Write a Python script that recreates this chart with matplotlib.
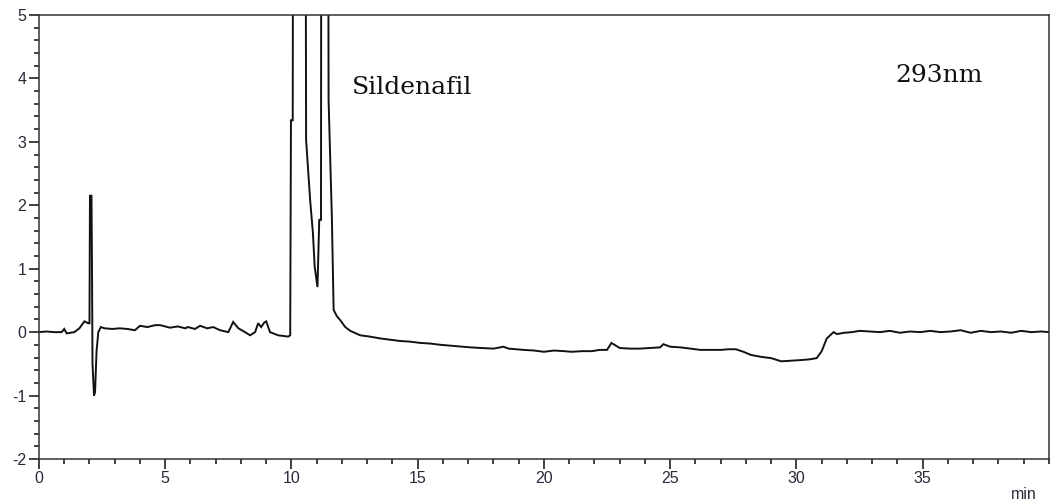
import numpy as np
import matplotlib
matplotlib.use('Agg')
import matplotlib.pyplot as plt
from matplotlib.ticker import MultipleLocator

plt.rcParams['axes.unicode_minus'] = False

# retention time (min) and detector signal
time_min = [
    0.0, 0.3, 0.6, 0.9, 1.0, 1.1, 1.4, 1.6, 1.8, 1.95, 2.0, 2.02, 2.08, 2.1, 2.12,
    2.18, 2.22, 2.28, 2.35, 2.45, 2.6, 2.9, 3.2, 3.5, 3.8, 4.0, 4.3, 4.6, 4.8,
    5.19, 5.5, 5.79, 5.9, 6.18, 6.38, 6.66, 6.9, 7.17, 7.5, 7.69, 7.9, 8.16, 8.36,
    8.56, 8.68, 8.8, 8.92, 9.0, 9.15, 9.47, 9.87, 9.95, 9.98, 10.05, 10.1, 10.5,
    10.58, 10.74, 10.85, 10.92, 11.03, 11.1, 11.17, 11.2, 11.4, 11.47, 11.6, 11.67,
    11.8, 11.93, 12.13, 12.33, 12.72, 13.1, 13.52, 13.9, 14.31, 14.7, 15.1, 15.5,
    15.9, 16.5, 17.08, 17.5, 18.0, 18.4, 18.6, 19.2, 19.6, 20.0, 20.4, 20.8, 21.1,
    21.5, 21.9, 22.2, 22.5, 22.67, 23.0, 23.4, 23.8, 24.2, 24.6, 24.73, 25.0, 25.4,
    25.8, 26.2, 26.6, 27.0, 27.3, 27.6, 27.9, 28.2, 28.6, 29.0, 29.4, 29.8, 30.2,
    30.5, 30.8, 31.0, 31.2, 31.47, 31.6, 31.9, 32.2, 32.5, 32.9, 33.3, 33.7, 34.1,
    34.5, 34.9, 35.3, 35.7, 36.1, 36.5, 36.9, 37.3, 37.7, 38.1, 38.5, 38.9, 39.3,
    39.7, 40.0,
]
signal = [
    0.0, 0.01, 0.0, 0.0, 0.05, -0.02, 0.0, 0.06, 0.17, 0.14, 0.14, 2.15, 2.15, 1.0,
    -0.5, -1.0, -0.95, -0.3, 0.0, 0.08, 0.06, 0.05, 0.06, 0.05, 0.03, 0.1, 0.08,
    0.11, 0.11, 0.07, 0.09, 0.06, 0.08, 0.05, 0.1, 0.06, 0.08, 0.03, 0.0, 0.16,
    0.06, 0.0, -0.05, 0.0, 0.14, 0.08, 0.15, 0.17, 0.0, -0.05, -0.07, -0.05, 3.34,
    3.34, 20.0, 20.0, 3.03, 2.08, 1.56, 1.03, 0.71, 1.77, 1.77, 20.0, 20.0, 3.66,
    1.81, 0.35, 0.25, 0.19, 0.08, 0.02, -0.05, -0.07, -0.1, -0.12, -0.14, -0.15,
    -0.17, -0.18, -0.2, -0.22, -0.24, -0.25, -0.26, -0.23, -0.26, -0.28, -0.29,
    -0.31, -0.29, -0.3, -0.31, -0.3, -0.3, -0.28, -0.28, -0.17, -0.25, -0.26,
    -0.26, -0.25, -0.24, -0.19, -0.23, -0.24, -0.26, -0.28, -0.28, -0.28, -0.27,
    -0.27, -0.31, -0.36, -0.39, -0.41, -0.46, -0.45, -0.44, -0.43, -0.41, -0.3,
    -0.1, 0.0, -0.03, -0.01, 0.0, 0.02, 0.01, 0.0, 0.02, -0.01, 0.01, 0.0, 0.02,
    0.0, 0.01, 0.03, -0.01, 0.02, 0.0, 0.01, -0.01, 0.02, 0.0, 0.01, 0.0,
]

x_ticks = [0, 5, 10, 15, 20, 25, 30, 35]
y_ticks = [-2, -1, 0, 1, 2, 3, 4, 5]

fig = plt.figure(figsize=(10.62, 5.04), dpi=100)
ax = fig.add_axes([0.0367, 0.0893, 0.951, 0.881])

ax.plot(time_min, signal, color='#111111', linewidth=1.4, solid_joinstyle='miter')

ax.set_xlim(0, 40)
ax.set_ylim(-2, 5)
ax.set_xticks(x_ticks)
ax.set_yticks(y_ticks)
ax.xaxis.set_minor_locator(MultipleLocator(1))
ax.yaxis.set_minor_locator(MultipleLocator(0.2))

spine_color = '#333333'
for s in ax.spines.values():
    s.set_color(spine_color)
    s.set_linewidth(1.1)

ax.tick_params(which='major', direction='out', length=7, width=1.3,
               color=spine_color, labelsize=11.5, labelcolor='#2a2a3a', pad=2,
               top=False, right=False)
ax.tick_params(which='minor', direction='out', length=3.5, width=1.3,
               color=spine_color, top=False, right=False)
for lab in ax.get_xticklabels() + ax.get_yticklabels():
    lab.set_family('Liberation Sans')

ax.text(0.975, -0.062, 'min', transform=ax.transAxes, ha='center', va='top',
        fontsize=11.5, family='Liberation Sans', color='#2a2a3a')

ax.text(12.4, 3.85, 'Sildenafil', fontsize=18, family='DejaVu Serif',
        color='#111111', va='center', ha='left')
ax.text(33.9, 4.05, '293nm', fontsize=18, family='DejaVu Serif',
        color='#111111', va='center', ha='left')

fig.savefig('out.png', dpi=100, facecolor='white')
